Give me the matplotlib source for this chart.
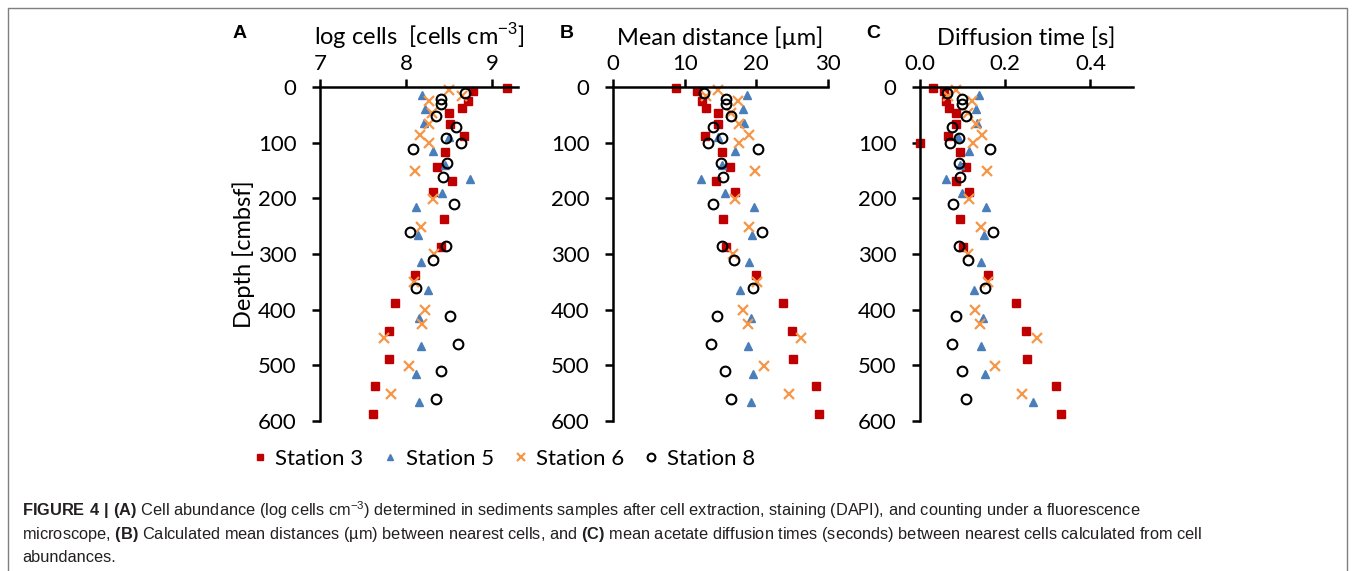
import matplotlib.pyplot as plt
from matplotlib.lines import Line2D

# sample depths [cmbsf] for each station
depth_st3 = [1, 8, 25, 37, 47, 67, 88, 117, 143, 169, 188, 238, 288, 338, 388, 438, 488, 538, 588]
depth_st5 = [15, 40, 65, 90, 115, 140, 165, 190, 215, 265, 315, 365, 415, 465, 515, 565]
depth_st6 = [5, 16, 26, 46, 66, 86, 101, 151, 201, 251, 300, 350, 401, 426, 451, 501, 551]
depth_st8 = [11, 22, 31, 52, 71, 92, 101, 111, 136, 161, 211, 261, 286, 311, 361, 411, 461, 511, 561]

# (A) log cells
cells_st3 = [9.17, 8.78, 8.72, 8.65, 8.50, 8.51, 8.67, 8.45, 8.36, 8.53, 8.31, 8.44, 8.41, 8.10, 7.87, 7.80, 7.80, 7.64, 7.62]
cells_st5 = [8.19, 8.22, 8.21, 8.50, 8.31, 8.45, 8.74, 8.42, 8.11, 8.14, 8.17, 8.26, 8.15, 8.17, 8.12, 8.15]
cells_st6 = [8.50, 8.65, 8.27, 8.30, 8.27, 8.16, 8.27, 8.10, 8.31, 8.17, 8.32, 8.09, 8.22, 8.18, 7.74, 8.03, 7.83]
cells_st8 = [8.68, 8.41, 8.41, 8.35, 8.58, 8.46, 8.64, 8.08, 8.47, 8.43, 8.56, 8.05, 8.46, 8.31, 8.12, 8.51, 8.60, 8.41, 8.35]

# (B) mean distance [um]
dist_st3 = [8.74, 11.76, 12.46, 12.97, 14.6, 14.6, 12.88, 15.25, 16.37, 14.37, 17.0, 15.3, 15.76, 19.94, 23.75, 24.92, 25.1, 28.36, 28.78]
dist_st5 = [18.64, 18.09, 18.27, 14.69, 16.97, 15.25, 12.23, 15.62, 19.67, 19.39, 18.92, 17.71, 19.2, 18.88, 19.57, 19.29]
dist_st6 = [14.69, 13.0, 17.39, 16.4, 17.6, 19.0, 17.57, 19.8, 17.06, 18.97, 16.78, 20.04, 18.09, 18.78, 26.22, 21.02, 24.55]
dist_st8 = [12.74, 15.71, 15.71, 16.41, 13.9, 15.16, 13.2, 20.27, 15.11, 15.39, 13.9, 20.74, 15.16, 16.88, 19.48, 14.55, 13.62, 15.62, 16.46]

# (C) diffusion time [s]; station 3 has one extra point at 100 cm
time_depth_st3 = [1, 8, 25, 37, 47, 67, 88, 100, 117, 143, 169, 188, 238, 288, 338, 388, 438, 488, 538, 588]
time_st3 = [0.030, 0.057, 0.060, 0.067, 0.085, 0.085, 0.066, 0.0, 0.093, 0.107, 0.084, 0.115, 0.093, 0.100, 0.159, 0.225, 0.248, 0.252, 0.320, 0.330]
time_st5 = [0.138, 0.132, 0.134, 0.089, 0.115, 0.093, 0.060, 0.098, 0.155, 0.150, 0.143, 0.126, 0.147, 0.143, 0.153, 0.266]
time_st6 = [0.085, 0.066, 0.123, 0.112, 0.132, 0.145, 0.124, 0.157, 0.115, 0.143, 0.112, 0.160, 0.130, 0.142, 0.274, 0.177, 0.240]
time_st8 = [0.064, 0.098, 0.098, 0.109, 0.076, 0.091, 0.070, 0.164, 0.091, 0.093, 0.078, 0.172, 0.091, 0.113, 0.152, 0.085, 0.074, 0.098, 0.107]

stations = ['Station 3', 'Station 5', 'Station 6', 'Station 8']

plt.rcParams['font.family'] = ['Lato', 'DejaVu Sans']
plt.rcParams['mathtext.fontset'] = 'custom'
plt.rcParams['mathtext.rm'] = 'Liberation Sans'
plt.rcParams['mathtext.bf'] = 'Liberation Sans:bold'

W, H = 1358, 571
fig = plt.figure(figsize=(W / 100, H / 100), dpi=100)

panels = [
    # left px, right px, letter, letter x, label, xlim, xticks, data
    (320, 518, 'A', 240, 'log cells  [cells cm$^{-3}$]', (7, 9.3), [7, 8, 9],
     [(cells_st3, depth_st3), (cells_st5, depth_st5), (cells_st6, depth_st6), (cells_st8, depth_st8)]),
    (613, 828, 'B', 567, 'Mean distance [µm]', (0, 30), [0, 10, 20, 30],
     [(dist_st3, depth_st3), (dist_st5, depth_st5), (dist_st6, depth_st6), (dist_st8, depth_st8)]),
    (920, 1133, 'C', 873, 'Diffusion time [s]', (0, 0.5), [0.0, 0.2, 0.4],
     [(time_st3, time_depth_st3), (time_st5, depth_st5), (time_st6, depth_st6), (time_st8, depth_st8)]),
]

top_px, bot_px = 87, 421
handles = None
for left, right, letter, lx, label, xlim, xticks, data in panels:
    ax = fig.add_axes([left / W, 1 - bot_px / H, (right - left) / W, (bot_px - top_px) / H])
    (x3, y3), (x5, y5), (x6, y6), (x8, y8) = data
    h3, = ax.plot(x3, y3, 's', color='#C00000', ms=5.5, clip_on=False)
    h5, = ax.plot(x5, y5, '^', color='#4A7EBB', ms=6, clip_on=False)
    h6, = ax.plot(x6, y6, 'x', color='#F79646', ms=7, mew=1.6, clip_on=False)
    h8, = ax.plot(x8, y8, 'o', mfc='none', mec='black', ms=7, mew=1.5, clip_on=False)
    if handles is None:
        handles = [h3, h5, h6, h8]

    ax.set_xlim(*xlim)
    ax.set_xticks(xticks)
    ax.set_ylim(600, 0)
    ax.set_yticks(range(0, 601, 100))
    ax.xaxis.tick_top()
    ax.xaxis.set_label_position('top')
    ax.set_xlabel(label, fontsize=17, labelpad=7)
    for s in ['right', 'bottom']:
        ax.spines[s].set_visible(False)
    for s in ['left', 'top']:
        ax.spines[s].set_linewidth(1.8)
    ax.tick_params(axis='x', direction='out', length=6, width=1.8, pad=3, labelsize=16)
    ax.tick_params(axis='y', direction='out', length=6, width=1.8, pad=11, labelsize=16)
    ax.patch.set_alpha(0)
    fig.text(lx / W, 1 - 33 / H, letter, fontsize=14, fontweight='bold',
             family='Liberation Sans', ha='center', va='center')
    if letter == 'A':
        ax.set_ylabel('Depth [cmbsf]', fontsize=17, labelpad=2)

fig.legend(handles, stations, loc='center', bbox_to_anchor=(504 / W, 1 - 459 / H), ncol=4,
           frameon=False, fontsize=16, handlelength=0.6, handletextpad=0.4,
           columnspacing=0.9, markerscale=0.8)

# grey frame around the figure
fig.add_artist(Line2D([8 / W, 8 / W, 1347 / W, 1347 / W], [0, 1 - 8 / H, 1 - 8 / H, 0],
                      transform=fig.transFigure, color='#7f7f7f', lw=1))

caption = [
    r"$\mathbf{FIGURE\ 4\ |\ (A)}$ Cell abundance (log cells cm$^{-3}$) determined in sediments samples after cell extraction, staining (DAPI), and counting under a fluorescence",
    r"microscope, $\mathbf{(B)}$ Calculated mean distances (µm) between nearest cells, and $\mathbf{(C)}$ mean acetate diffusion times (seconds) between nearest cells calculated from cell",
    "abundances.",
]
for i, line in enumerate(caption):
    fig.text(22 / W, 1 - (510 + 24 * i) / H, line, fontsize=11.8, family='Liberation Sans',
             color='#231F20', ha='left', va='center')

fig.savefig('out.png', dpi=100)
